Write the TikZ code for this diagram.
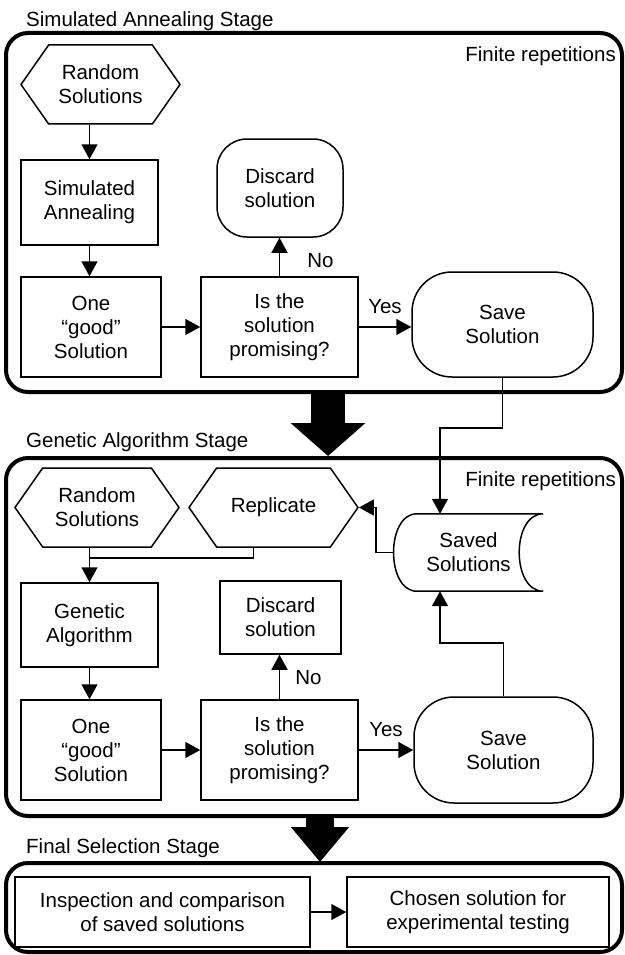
\documentclass[tikz,border=0pt]{standalone}
\usepackage{fontspec}
\setmainfont{Liberation Sans}
\usetikzlibrary{positioning,shapes.symbols,arrows.meta}

\begin{document}
\begin{tikzpicture}[
  x=1pt, y=-1pt,
  font=\fontsize{20.5}{24}\selectfont,
  node distance = 188.5pt,
  frame/.style={draw, rectangle, rounded corners=22pt, line width=4pt, minimum width=616pt, inner sep=0pt},
  pbox/.style={draw, rectangle, line width=1.5pt, align=center, inner sep=2pt},
  hexa/.style={draw, signal, signal to=west and east, signal pointer angle=110, line width=1.5pt, align=center, minimum height=79pt, inner sep=1pt},
  term/.style={pbox, rounded corners=#1},
  lnode/.style={inner sep=1pt, align=center},
  arw/.style={-{Triangle[length=15pt,width=16pt]}, line width=1.5pt},
  symline/.style={-, line width=1.5pt}
  ]
\useasboundingbox (0,0) rectangle (624,955);

% stage 1

\node [frame, minimum height=359pt] (sa) at (314,212.5) {};
\node [lnode, anchor=west, inner sep=0pt] (t1) at (26,21) {Simulated Annealing Stage};
\node [lnode, anchor=east] (f1) at (617,56) {Finite repetitions};

\node [hexa, minimum width=159pt] (r1) at (100.5,84.5) {Random\\Solutions};
\node [pbox, minimum width=137pt, minimum height=85pt] (s1) at (89.5,202.5) {Simulated\\Annealing};
\node [pbox, minimum width=140pt, minimum height=100pt] (o1) at (91,327) {One\\“good”\\Solution};
\node [pbox, minimum width=157pt, minimum height=100pt, right of=o1] (p1) {Is the\\solution\\promising?};
\node [term=30pt, minimum width=126pt, minimum height=98pt] (d1) at (280,188) {Discard\\solution};
\node [term=40pt, minimum width=181pt, minimum height=105pt] (v1) at (502.5,324.5) {Save\\Solution};

\draw [arw] (r1.south -| s1.north) -- (s1.north);
\draw [arw] (s1.south) -- (s1.south |- o1.north);
\draw [arw] (o1.east) -- (p1.west);
\draw [arw] (p1.north) -- node [lnode, pos=0.4, right=26pt] (n1) {No} (p1.north |- d1.south);
\draw [arw] (p1.east) -- node [lnode, midway, above=12pt] (y1) {Yes} (p1.east -| v1.west);

% big arrow 1
\coordinate (a1) at (328,393);
\coordinate (a2) at (328,456);
\draw [line width=34pt, -{Triangle[length=33pt,width=73pt]}] (a1) -- (a2);

% stage 2

\node [frame, minimum height=358pt] (ga) at (314,637) {};
\node [lnode, anchor=west, inner sep=0pt] (t2) at (26,442) {Genetic Algorithm Stage};
\node [lnode, anchor=east] (f2) at (617,481) {Finite repetitions};

\node [hexa, minimum width=164pt] (r2) at (97,507.5) {Random\\Solutions};
\node [hexa, minimum width=169pt] (rp) at (273.5,507.5) {Replicate};
\node [lnode, minimum width=149pt, minimum height=77pt] (ss) at (468.5,552.5) {Saved\\Solutions};
\node [pbox, minimum width=137pt, minimum height=84pt] (g2) at (89.5,625) {Genetic\\Algorithm};
\node [pbox, minimum width=121pt, minimum height=73pt] (d2) at (280.5,617.5) {Discard\\solution};
\node [pbox, minimum width=140pt, minimum height=100pt] (o2) at (91,750) {One\\“good”\\Solution};
\node [pbox, minimum width=157pt, minimum height=100pt, right of=o2] (p2) {Is the\\solution\\promising?};
\node [term=40pt, minimum width=179pt, minimum height=106pt] (v2) at (503.5,750) {Save\\Solution};

% stored data outline
\draw [symline] ([xshift=23pt]ss.north west) -- (ss.north east)
  .. controls +(-32,0) and +(-32,0) .. (ss.south east)
  -- ([xshift=23pt]ss.south west)
  .. controls +(-31,0) and +(-31,0) .. ([xshift=23pt]ss.north west);

\coordinate (j1) at (440,428);
\coordinate (j2) at (440,643);
\coordinate (j3) at (89.5,558);

\draw [arw] (v1.south) |- (j1) -- (j1 |- ss.north);
\draw [arw] (v2.north) |- (j2) -- (j2 |- ss.south);
\draw [arw] (ss.west) -- ++(-18,0) |- (rp.east);

\draw [arw] (r2.south -| g2.north) -- (g2.north);
\draw [symline] ([xshift=-20pt]rp.south) |- (j3);
\draw [arw] (g2.south) -- (g2.south |- o2.north);
\draw [arw] (o2.east) -- (p2.west);
\draw [arw] (p2.north) -- node [lnode, pos=0.48, right=14pt] (n2) {No} (p2.north |- d2.south);
\draw [arw] (p2.east) -- node [lnode, midway, above=12pt] (y2) {Yes} (p2.east -| v2.west);

% big arrow 2
\coordinate (a3) at (320,817);
\coordinate (a4) at (320,862);
\draw [line width=28pt, -{Triangle[length=35pt,width=56pt]}] (a3) -- (a4);

% stage 3

\node [frame, minimum height=89pt] (fs) at (314,907.5) {};
\node [lnode, anchor=west, inner sep=0pt] (t3) at (26,848) {Final Selection Stage};

\node [pbox, minimum width=295pt, minimum height=70pt] (i3) at (162.5,912) {Inspection and comparison\\of saved solutions};
\node [pbox, minimum width=262pt, minimum height=70pt] (c3) at (478,912) {Chosen solution for\\experimental testing};

\draw [arw] (i3.east) -- (c3.west);

\end{tikzpicture}
\end{document}
